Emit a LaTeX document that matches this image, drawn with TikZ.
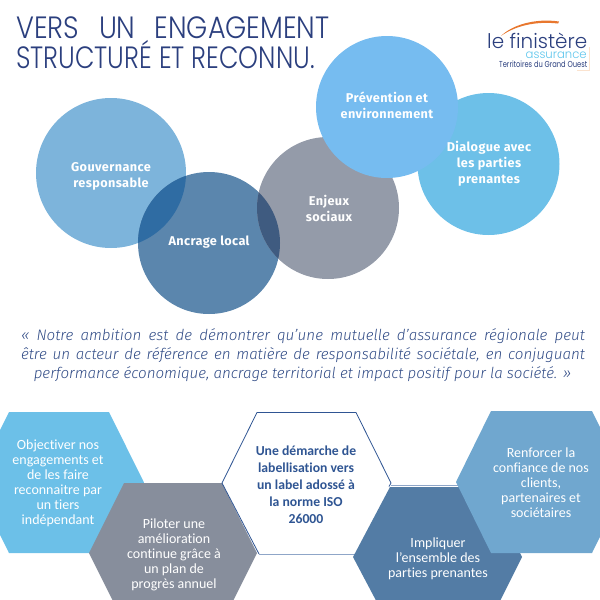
\documentclass[tikz,border=0pt]{standalone}
\usepackage{fontspec}
\usepackage{graphicx}
\setmainfont{Carlito}[Ligatures=NoCommon]
\newfontfamily\circfont{Fira Sans}[BoldFont=* Bold,LetterSpace=3]
\newfontfamily\quotefont{Fira Sans Light}[ItalicFont=* Italic]
\newfontfamily\titlefont{Poppins Light}[FakeStretch=0.82]
\newfontfamily\titlefontw{Poppins Light}[FakeStretch=0.88]
\newfontfamily\logofont{Poppins Light}
\newfontfamily\logofontb{Poppins}
\usetikzlibrary{calc}
\definecolor{navy}{HTML}{2B3F7E}
\definecolor{cOne}{HTML}{7DB4DB}
\definecolor{cTwo}{HTML}{5B86AD}
\definecolor{cThree}{HTML}{949BA9}
\definecolor{cFour}{HTML}{76BCF0}
\definecolor{cFive}{HTML}{6DC0E8}
\definecolor{ovA}{HTML}{2F6CA3}
\definecolor{ovB}{HTML}{3F5B80}
\definecolor{hOne}{HTML}{6CC0E8}
\definecolor{hTwo}{HTML}{878E9C}
\definecolor{hThree}{HTML}{2F5593}
\definecolor{hLight}{HTML}{8FA6C8}
\definecolor{hFour}{HTML}{537CA5}
\definecolor{hFive}{HTML}{70A7CF}
\definecolor{quotecol}{HTML}{2F4A85}
\definecolor{swoosh}{HTML}{E8772E}
\definecolor{peach}{HTML}{FBE3CF}
\definecolor{assur}{HTML}{5CC5EC}
\tikzset{x=1pt,y=-1pt,
  circlabel/.style={text=white,align=center,font=\circfont\bfseries\fontsize{12.7}{16}\selectfont,inner sep=0pt},
  hexlabel/.style={text=white,align=center,font=\fontsize{14}{15}\selectfont,inner sep=0pt},
  hexbold/.style={text=hThree,align=center,font=\bfseries\fontsize{13.7}{17}\selectfont,inner sep=0pt},
  quoteline/.style={text=quotecol,font=\quotefont\itshape\fontsize{15.15}{16}\selectfont,inner sep=0pt,anchor=base},
  titleline/.style={anchor=base west,inner sep=0pt,text=navy,font=\titlefont\fontsize{30.8}{31}\selectfont},
  logotext/.style={inner sep=0pt,anchor=base west},
}
\begin{document}
\begin{tikzpicture}
\useasboundingbox (0,0) rectangle (600,600);
\begin{scope}
\clip (0,0) rectangle (600,600);
% circles
\fill[cOne] (111,173) circle[radius=75];
\fill[cFive] (488.5,164) circle[radius=71];
\fill[cTwo] (209,243) circle[radius=71];
\fill[cThree] (328,208) circle[radius=71];
\begin{scope}\clip (111,173) circle[radius=75]; \fill[ovA] (209,243) circle[radius=71];\end{scope}
\begin{scope}\clip (209,243) circle[radius=71]; \fill[ovB] (328,208) circle[radius=71];\end{scope}
\fill[cFour] (387,107) circle[radius=71];
% hexagons
\fill[hOne] (9,412) -- (109,412) -- (144,482.5) -- (109,553) -- (9,553) -- (-26,482.5) -- cycle;
\fill[white] (257,412.5) -- (356,412.5) -- (391,483) -- (356,554) -- (257,554) -- (222,483) -- cycle;
\fill[hTwo] (124,483) -- (222,483) -- (257,553) -- (222,623) -- (124,623) -- (89,553) -- cycle;
\draw[hLight,line width=1.2pt] (259,554.2) -- (356,554.2);
\draw[hLight,line width=0.8pt] (391,485.8) -- (460,485.8);
\draw[hThree,line width=0.8pt,line join=miter] (259,554) -- (222,483) -- (257,412.5) -- (356,412.5) -- (391,483) -- (389,486.5);
\fill[hFour] (390,487) -- (487,487) -- (522,557) -- (487,627) -- (390,627) -- (353,557) -- cycle;
\fill[hFive] (491,411) -- (592,411) -- (627,482) -- (592,553) -- (491,553) -- (456,482) -- cycle;
\end{scope}
% title
\node[titleline] (t1) at (16,38.3) {\titlefontw VERS\hspace{20pt}UN\hspace{19pt}ENGAGEMENT};
\node[titleline] (t2) at (16,68.3) {STRUCTURÉ ET RECONNU.};
% logo
\fill[swoosh] (501,36) .. controls (512,25) and (535,18) .. (559,21.5) .. controls (559,22.5) and (559,23) .. (558,23.5) .. controls (535,21) and (515,26) .. (501,36) -- cycle;
\draw[peach,line width=0.8pt] (589.5,47) -- (589.5,70.5) -- (577,70.5);
\node[logotext,text=navy] (l1) at (487,48.5) {\resizebox{100pt}{15.5pt}{\logofont le finistère}};
\node[logotext,text=assur] (l2) at (525.5,58.3) {\resizebox{61pt}{6.6pt}{\logofont assurance}};
\node[logotext,text=navy] (l3) at (499,67.5) {\resizebox{88pt}{6.6pt}{\logofontb Territoires du Grand Ouest}};
% circle labels
\node[circlabel] (a) at (111,176.5) {Gouvernance\\responsable};
\node[circlabel] (b) at (209,242) {Ancrage local};
\node[circlabel] (c) at (329,208) {Enjeux\\sociaux};
\node[circlabel] (d) at (387,105.5) {Prévention et\\environnement};
\node[circlabel] (e) at (489,163.5) {Dialogue avec\\les parties\\prenantes};
% quote
\node[quoteline] (q1) at (303,340) {\makebox[564pt][s]{« Notre ambition est de démontrer qu’une mutuelle d’assurance régionale peut}};
\node[quoteline] (q2) at (303,359) {\makebox[564pt][s]{être un acteur de référence en matière de responsabilité sociétale, en conjuguant}};
\node[quoteline] (q3) at (302.5,378) {performance économique, ancrage territorial et impact positif pour la société. »};
% hex labels
\node[hexlabel] (h1) at (58,483.5) {Objectiver nos\\engagements et\\de les faire\\reconnaitre par\\un tiers\\indépendant};
\node[hexlabel] (h2) at (174,554.5) {Piloter une\\amélioration\\continue grâce à\\un plan de\\progrès annuel};
\node[hexbold] (h3) at (306,484.5) {Une démarche de\\labellisation vers\\un label adossé à\\la norme ISO\\26000};
\node[hexlabel] (h4) at (438,558.5) {Impliquer\\l’ensemble des\\parties prenantes};
\node[hexlabel] (h5) at (541,483) {Renforcer la\\confiance de nos\\clients,\\partenaires et\\sociétaires};
\end{tikzpicture}
\end{document}
